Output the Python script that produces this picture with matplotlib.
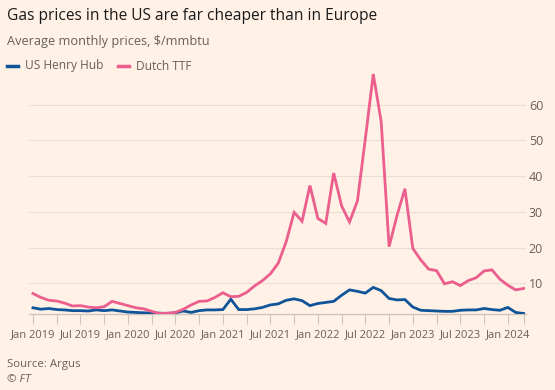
import numpy as np
import matplotlib
matplotlib.use("Agg")
from matplotlib import pyplot as plt

# monthly averages, Jan 2019 .. Mar 2024 ($/mmbtu)
henry_hub = [3.2, 2.8, 3.0, 2.7, 2.6, 2.4, 2.4, 2.3, 2.6, 2.4, 2.6, 2.3,
             2.0, 1.9, 1.8, 1.7, 1.7, 1.6, 1.8, 2.3, 1.9, 2.4, 2.6, 2.6,
             2.7, 5.6, 2.7, 2.7, 2.9, 3.3, 4.0, 4.3, 5.3, 5.7, 5.2, 3.8,
             4.4, 4.7, 5.0, 6.7, 8.2, 7.8, 7.3, 8.9, 8.0, 5.8, 5.4, 5.5,
             3.4, 2.5, 2.4, 2.3, 2.2, 2.2, 2.5, 2.6, 2.6, 3.0, 2.7, 2.5,
             3.3, 1.9, 1.6]
dutch_ttf = [7.2, 6.1, 5.3, 5.1, 4.5, 3.7, 3.8, 3.4, 3.2, 3.5, 5.0, 4.4,
             3.8, 3.2, 2.9, 2.2, 1.6, 1.7, 1.9, 2.8, 4.0, 5.0, 5.1, 6.1,
             7.4, 6.3, 6.4, 7.5, 9.3, 10.8, 12.7, 15.7, 21.7, 29.9, 27.4, 37.4,
             28.2, 26.8, 40.9, 31.7, 27.2, 33.1, 50.5, 68.6, 55.3, 20.3, 29.0, 36.5,
             19.8, 16.6, 14.0, 13.6, 9.9, 10.5, 9.4, 10.8, 11.6, 13.5, 13.8, 11.2,
             9.5, 8.2, 8.6]
start_year = 2019
tick_labels = ["Jan 2019", "Jul 2019", "Jan 2020", "Jul 2020", "Jan 2021", "Jul 2021",
               "Jan 2022", "Jul 2022", "Jan 2023", "Jul 2023", "Jan 2024"]
y_ticks = [10, 20, 30, 40, 50, 60]

bg = "#FFF1E5"
blue = "#0F5499"
pink = "#EB5E8D"
grey = "#66605C"
grid_col = "#E9DED5"

plt.rcParams["font.family"] = ["Open Sans", "DejaVu Sans"]

fig = plt.figure(figsize=(5.55, 3.9), dpi=100, facecolor=bg)
ax = fig.add_axes([29 / 555, 1 - 313.5 / 390, (526 - 29) / 555, (313.5 - 69) / 390])
ax.set_facecolor(bg)

months = np.arange(len(dutch_ttf))
ax.plot(months, henry_hub, color=blue, lw=2, solid_joinstyle="miter", zorder=3)
ax.plot(months, dutch_ttf, color=pink, lw=2, solid_joinstyle="miter", zorder=3)

ax.set_xlim(-0.5, months[-1] + 0.3)
ax.set_ylim(1.6, 70)

for s in ["top", "left", "right"]:
    ax.spines[s].set_visible(False)
ax.spines["bottom"].set_color("#CEC6BE")
ax.spines["bottom"].set_linewidth(1)

ax.set_yticks(y_ticks)
ax.yaxis.tick_right()
ax.tick_params(axis="y", length=0, pad=2, labelsize=9, labelcolor=grey)
ax.grid(axis="y", color=grid_col, lw=0.8)

ax.set_xticks(np.arange(0, len(tick_labels) * 6, 6))
ax.set_xticklabels(tick_labels)
ax.set_xticks(list(np.arange(3, 60, 6)) + [months[-1]], minor=True)
ax.tick_params(axis="x", which="both", length=7, width=0.8, color="#CEC6BE",
               labelsize=8, labelcolor=grey, pad=4)

fig.text(7 / 555, 1 - 16 / 390, "Gas prices in the US are far cheaper than in Europe",
         fontsize=11.2, color="#1A1A1A", va="center", ha="left")
fig.text(7 / 555, 1 - 42 / 390, "Average monthly prices, $/mmbtu",
         fontsize=9.2, color=grey, va="center", ha="left")

# legend
fig.add_artist(plt.Line2D([7 / 555, 18 / 555], [1 - 66 / 390] * 2, color=blue, lw=2.5))
fig.text(25 / 555, 1 - 66 / 390, "US Henry Hub", fontsize=8.6, color=grey, va="center")
fig.add_artist(plt.Line2D([118 / 555, 129 / 555], [1 - 66 / 390] * 2, color=pink, lw=2.5))
fig.text(136 / 555, 1 - 66 / 390, "Dutch TTF", fontsize=8.6, color=grey, va="center")

fig.text(7 / 555, 1 - 365 / 390, "Source: Argus", fontsize=8.2, color=grey, va="center")
fig.text(7 / 555, 1 - 380 / 390, "© FT", fontsize=8.2, color=grey, va="center", style="italic")

fig.savefig("out.png", dpi=100, facecolor=bg)
